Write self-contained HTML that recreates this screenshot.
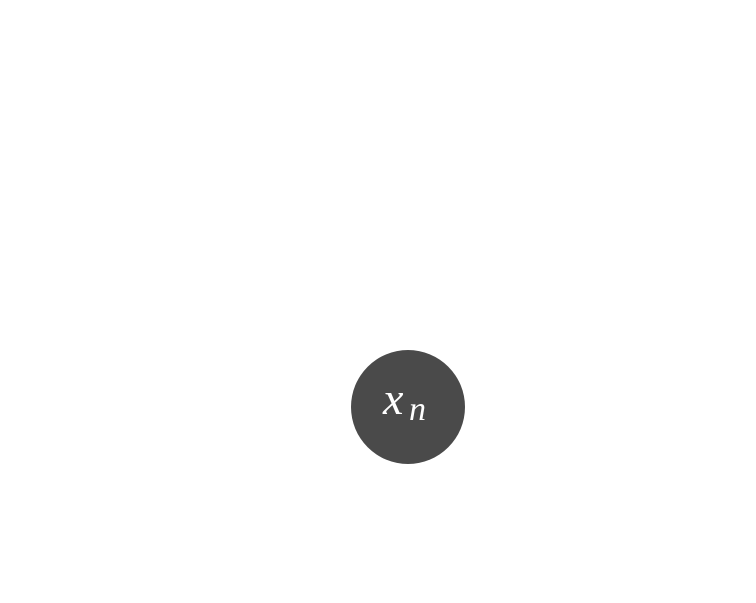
<!DOCTYPE html>
<html><head><style>
html,body{margin:0;padding:0;background:#fff;width:756px;height:603px;overflow:hidden}
</style></head><body>
<svg width="756" height="603" xmlns="http://www.w3.org/2000/svg">
<circle cx="408" cy="407" r="57" fill="#4a4a4a"/>
<text x="383" y="414" font-family="Liberation Serif, serif" font-style="italic" font-size="46" fill="#fff">x</text>
<text x="409" y="420" font-family="Liberation Serif, serif" font-style="italic" font-size="34" fill="#fff">n</text>
</svg>
</body></html>
